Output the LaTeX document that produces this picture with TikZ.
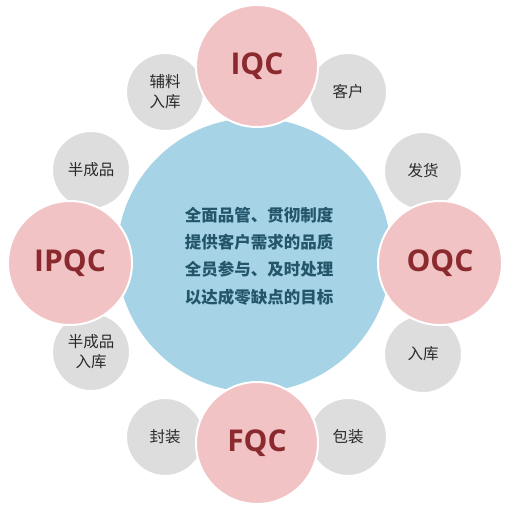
\documentclass[tikz,border=0pt]{standalone}
\usepackage{fontspec}
\setmainfont{Open Sans}
\newfontfamily\cjk{Noto Sans CJK SC}
\definecolor{pinkc}{HTML}{F2C3C5}
\definecolor{redtxt}{HTML}{8A2A2F}
\definecolor{grayc}{HTML}{DEDDDE}
\definecolor{bluec}{HTML}{A6D3E6}
\definecolor{bluetxt}{HTML}{24566B}
\definecolor{graytxt}{HTML}{2A2A2A}
\tikzset{
  qcnode/.style={circle, fill=pinkc, draw=white, line width=2pt, inner sep=0pt, minimum size=#1, text=redtxt, font=\fontsize{30}{32}\selectfont\bfseries},
  subnode/.style={circle, fill=grayc, draw=white, line width=2pt, inner sep=0pt, minimum size=78pt, text=graytxt, align=center, font=\cjk\fontsize{15.5}{20}\selectfont},
  corenode/.style={circle, fill=bluec, draw=none, inner sep=0pt, minimum size=274pt},
  coretext/.style={text=bluetxt, align=center, font=\cjk\bfseries\fontsize{16.5}{27.3}\selectfont}
}
\begin{document}
\begin{tikzpicture}[x=1pt,y=-1pt]
\useasboundingbox[fill=white] (0,0) rectangle (510,510);
\node[corenode] (core) at (254,255) {};
\node[coretext] (coretxt) at (259,256) {全面品管、贯彻制度\\提供客户需求的品质\\全员参与、及时处理\\以达成零缺点的目标};
\node[subnode] (s1) at (165,92) {辅料\\入库};
\node[subnode] (s2) at (348,92) {客户};
\node[subnode] (s3) at (91,170) {半成品};
\node[subnode] (s4) at (91,352) {半成品\\入库};
\node[subnode] (s5) at (423,171) {发货};
\node[subnode] (s6) at (423,354) {入库};
\node[subnode] (s7) at (165,437) {封装};
\node[subnode] (s8) at (348,437) {包装};
\node[qcnode=122pt] (iqc) at (257,66) {IQC};
\node[qcnode=124pt] (ipqc) at (70,263) {IPQC};
\node[qcnode=124pt] (oqc) at (440,263) {OQC};
\node[qcnode=122pt] (fqc) at (257,443) {FQC};
\end{tikzpicture}
\end{document}
